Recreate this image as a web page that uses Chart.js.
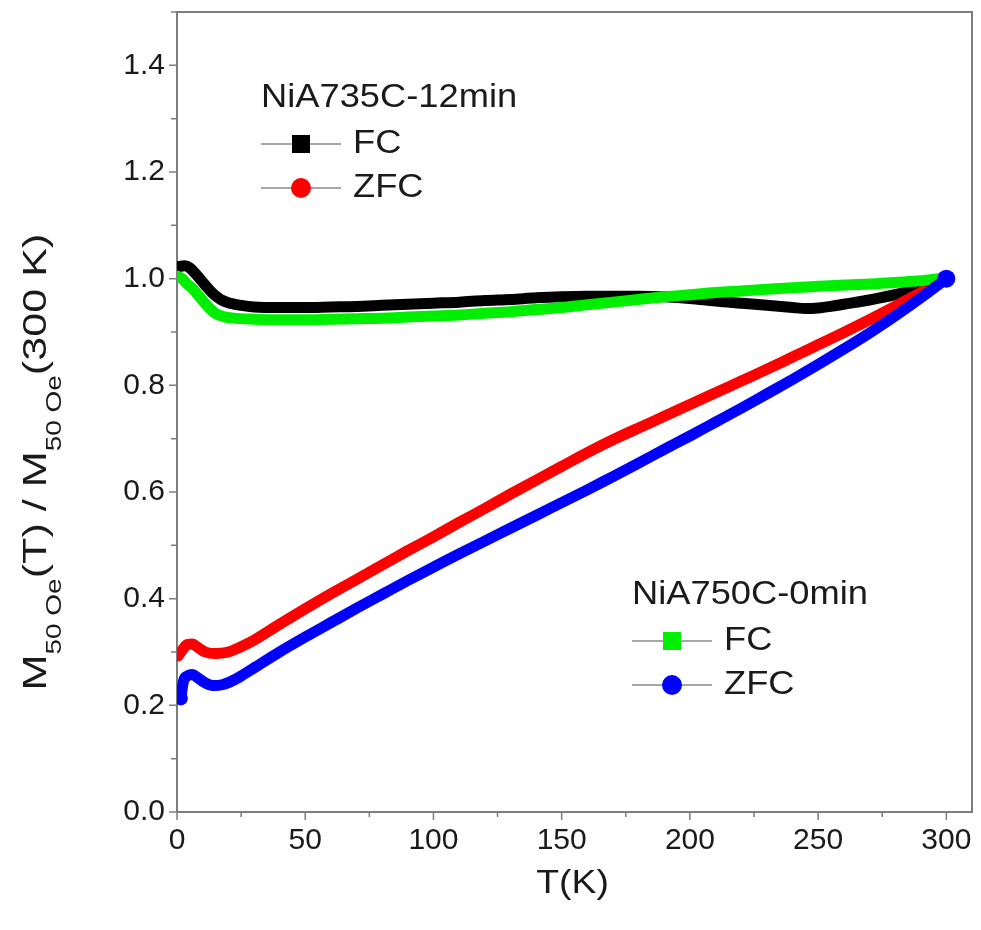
<!DOCTYPE html>
<html lang="en">
<head>
  <meta charset="UTF-8">
  <title>Normalized magnetization vs temperature</title>
  <script src="https://cdn.jsdelivr.net/npm/chart.js"></script>
  <style>
    body { margin: 0; background: #fff; }
    canvas { display: block; }
  </style>
</head>
<body>
  <canvas id="mtChart" width="981" height="930"></canvas>

  <script>
    // NiA735C-12min, field cooled
    const fcT735 = [0, 3, 5, 8, 11, 14, 17, 20, 25, 30, 40, 50, 60, 70, 80, 90, 100, 110, 120, 130, 140, 150, 160, 170, 180, 190, 200, 210, 220, 230, 240, 245, 250, 255, 260, 270, 280, 290, 300];
    const fcM735 = [1.022, 1.024, 1.02, 1.005, 0.988, 0.972, 0.961, 0.955, 0.95, 0.947, 0.946, 0.946, 0.947, 0.948, 0.95, 0.952, 0.954, 0.956, 0.959, 0.961, 0.964, 0.966, 0.967, 0.967, 0.967, 0.966, 0.963, 0.958, 0.954, 0.95, 0.946, 0.944, 0.945, 0.948, 0.952, 0.96, 0.97, 0.984, 1.0];

    // NiA735C-12min, zero field cooled
    const zfcT735 = [0.5, 2, 4, 6, 8, 11, 15, 20, 25, 30, 40, 50, 60, 70, 80, 90, 100, 110, 120, 130, 140, 150, 160, 170, 180, 190, 200, 210, 220, 230, 240, 250, 260, 270, 280, 290, 300];
    const zfcM735 = [0.293, 0.303, 0.314, 0.315, 0.309, 0.3, 0.297, 0.3, 0.31, 0.322, 0.352, 0.381, 0.409, 0.436, 0.463, 0.49, 0.516, 0.543, 0.569, 0.596, 0.622, 0.648, 0.674, 0.698, 0.72, 0.742, 0.764, 0.786, 0.808, 0.83, 0.853, 0.876, 0.899, 0.923, 0.948, 0.974, 1.0];

    // NiA750C-0min, field cooled
    const fcT750 = [0, 2, 4, 6, 9, 12, 15, 18, 22, 30, 40, 50, 60, 70, 80, 90, 100, 110, 120, 130, 140, 150, 160, 170, 180, 190, 200, 210, 220, 230, 240, 250, 260, 270, 280, 290, 297];
    const fcM750 = [1.005, 1.0, 0.99, 0.982, 0.965, 0.948, 0.935, 0.929, 0.926, 0.924, 0.923, 0.923, 0.924, 0.925, 0.926, 0.928, 0.93, 0.932, 0.935, 0.938, 0.942, 0.946, 0.951, 0.956, 0.961, 0.966, 0.97, 0.974, 0.977, 0.98, 0.983, 0.986, 0.988, 0.99, 0.993, 0.996, 1.0];

    // NiA750C-0min, zero field cooled
    const zfcT750 = [1.5, 2.5, 4, 6, 8, 11, 14, 18, 22, 26, 30, 40, 50, 60, 70, 80, 90, 100, 110, 120, 130, 140, 150, 160, 170, 180, 190, 200, 210, 220, 230, 240, 250, 260, 270, 280, 290, 300];
    const zfcM750 = [0.213, 0.245, 0.255, 0.258, 0.252, 0.242, 0.237, 0.239, 0.247, 0.258, 0.27, 0.3, 0.328, 0.355, 0.382, 0.408, 0.434, 0.459, 0.484, 0.508, 0.532, 0.556, 0.58, 0.604, 0.629, 0.654, 0.68, 0.705, 0.731, 0.757, 0.784, 0.811, 0.839, 0.868, 0.898, 0.93, 0.964, 1.0];

    const xTicks = [0, 50, 100, 150, 200, 250, 300];
    const yTicks = [0, 0.2, 0.4, 0.6, 0.8, 1.0, 1.2, 1.4];

    const FONT = "'Liberation Sans', Arial, sans-serif";
    const AXIS_GREY = '#7d7d7d';
    const TEXT = '#1a1a1a';

    function pts(xs, ys) {
      return xs.map((x, i) => ({ x: x, y: ys[i] }));
    }

    function curve(data, color, order, extra) {
      return Object.assign({
        data: data,
        borderColor: color,
        backgroundColor: color,
        borderWidth: 11,
        borderCapStyle: 'round',
        borderJoinStyle: 'round',
        pointRadius: 0,
        cubicInterpolationMode: 'monotone',
        fill: false,
        order: order
      }, extra || {});
    }

    // text drawn a little wider than the font's own proportions
    function wideText(ctx, str, x, y, stretch) {
      ctx.save();
      ctx.translate(x, y);
      ctx.scale(stretch, 1);
      ctx.fillText(str, 0, 0);
      ctx.restore();
    }

    // white page, frame and tick marks (major + minor)
    const framePlugin = {
      id: 'frame',
      beforeDraw(chart) {
        const ctx = chart.ctx;
        ctx.save();
        ctx.fillStyle = '#fff';
        ctx.fillRect(0, 0, chart.width, chart.height);
        ctx.restore();
      },
      beforeDatasetsDraw(chart) {
        const { ctx, chartArea: a, scales } = chart;
        ctx.save();
        ctx.strokeStyle = AXIS_GREY;
        ctx.lineWidth = 2;
        ctx.strokeRect(a.left, a.top, a.right - a.left, a.bottom - a.top);

        ctx.lineWidth = 1.5;
        ctx.beginPath();
        for (let i = 0; i < xTicks.length; i++) {
          const px = scales.x.getPixelForValue(xTicks[i]);
          ctx.moveTo(px, a.bottom);
          ctx.lineTo(px, a.bottom + 8);
          if (i < xTicks.length - 1) {
            const mx = scales.x.getPixelForValue((xTicks[i] + xTicks[i + 1]) / 2);
            ctx.moveTo(mx, a.bottom);
            ctx.lineTo(mx, a.bottom + 5);
          }
        }
        for (let i = 0; i < yTicks.length; i++) {
          const py = scales.y.getPixelForValue(yTicks[i]);
          ctx.moveTo(a.left, py);
          ctx.lineTo(a.left - 8, py);
          const my = scales.y.getPixelForValue(yTicks[i] + 0.1);
          ctx.moveTo(a.left, my);
          ctx.lineTo(a.left - 6, my);
        }
        ctx.stroke();
        ctx.restore();
      }
    };

    // axis titles (with subscripts) and the two legend blocks
    const labelPlugin = {
      id: 'labels',
      afterDraw(chart) {
        const ctx = chart.ctx;
        const a = chart.chartArea;
        ctx.save();
        ctx.fillStyle = TEXT;

        // x title
        ctx.font = '34px ' + FONT;
        ctx.textAlign = 'left';
        ctx.textBaseline = 'middle';
        const tw = ctx.measureText('T(K)').width * 1.1;
        wideText(ctx, 'T(K)', (a.left + a.right) / 2 - tw / 2 - 2, 884, 1.1);

        // y title, rotated, built piece by piece for the subscripts
        const parts = [
          ['M', 0], ['50 Oe', 1], ['(T) / M', 0], ['50 Oe', 1], ['(300 K)', 0]
        ];
        const big = '34px ' + FONT, small = '22px ' + FONT;
        const stretch = 1.27;
        let total = 0;
        parts.forEach(p => { ctx.font = p[1] ? small : big; total += ctx.measureText(p[0]).width; });
        ctx.translate(46, 462);
        ctx.rotate(-Math.PI / 2);
        ctx.scale(stretch, 1);
        ctx.textAlign = 'left';
        ctx.textBaseline = 'alphabetic';
        let cx = -total / 2;
        parts.forEach(p => {
          ctx.font = p[1] ? small : big;
          ctx.fillText(p[0], cx, p[1] ? 15 : 0);
          cx += ctx.measureText(p[0]).width;
        });
        ctx.setTransform(1, 0, 0, 1, 0, 0);

        drawLegend(ctx, 261, 98, 'NiA735C-12min', '#000000', '#ff0000');
        drawLegend(ctx, 632, 595, 'NiA750C-0min', '#00ee00', '#0000ff');
        ctx.restore();
      }
    };

    function drawLegend(ctx, x, y, title, fcColor, zfcColor) {
      ctx.font = '33px ' + FONT;
      ctx.textAlign = 'left';
      ctx.textBaseline = 'middle';
      ctx.fillStyle = TEXT;
      wideText(ctx, title, x, y, 1.1);
      const rows = [['FC', fcColor, 'square'], ['ZFC', zfcColor, 'circle']];
      rows.forEach((r, i) => {
        const ry = y + 46 + i * 44;
        ctx.strokeStyle = '#8a8a8a';
        ctx.lineWidth = 1.5;
        ctx.beginPath();
        ctx.moveTo(x, ry);
        ctx.lineTo(x + 80, ry);
        ctx.stroke();
        ctx.fillStyle = r[1];
        if (r[2] === 'square') {
          ctx.fillRect(x + 40 - 9, ry - 9, 18, 18);
        } else {
          ctx.beginPath();
          ctx.arc(x + 40, ry, 10, 0, Math.PI * 2);
          ctx.fill();
        }
        ctx.fillStyle = TEXT;
        wideText(ctx, r[0], x + 92, ry, 1.1);
      });
    }

    const ctx = document.getElementById('mtChart').getContext('2d');
    new Chart(ctx, {
      type: 'line',
      data: {
        datasets: [
          curve(pts(fcT735, fcM735), '#000000', 4),
          curve(pts(zfcT735, zfcM735), '#ff0000', 3),
          curve(pts(fcT750, fcM750), '#00ee00', 2),
          curve(pts(zfcT750, zfcM750), '#0000ff', 1, {
            pointRadius: c => (c.dataIndex === 0 ? 7 : (c.dataIndex === zfcT750.length - 1 ? 9 : 0)),
            pointBorderWidth: 0
          })
        ]
      },
      options: {
        responsive: false,
        animation: false,
        layout: { padding: { left: 0, top: 12, right: 6, bottom: 0 } },
        plugins: {
          legend: { display: false },
          tooltip: { enabled: false }
        },
        scales: {
          x: {
            type: 'linear',
            min: 0,
            max: 310,
            grid: { display: false, drawTicks: false, tickLength: 0 },
            border: { display: false },
            afterBuildTicks: s => { s.ticks = xTicks.map(v => ({ value: v })); },
            afterFit: s => { s.height = 118; s.paddingLeft = 0; s.paddingRight = 0; },
            ticks: {
              padding: 11,
              maxRotation: 0,
              color: TEXT,
              font: { family: FONT, size: 30 }
            }
          },
          y: {
            min: 0,
            max: 1.5,
            grid: { display: false, drawTicks: false, tickLength: 0 },
            border: { display: false },
            afterBuildTicks: s => { s.ticks = yTicks.map(v => ({ value: v })); },
            afterFit: s => { s.width = 177; s.paddingTop = 0; s.paddingBottom = 0; },
            ticks: {
              padding: 12,
              color: TEXT,
              font: { family: FONT, size: 30 },
              callback: v => v.toFixed(1)
            }
          }
        }
      },
      plugins: [framePlugin, labelPlugin]
    });
  </script>
</body>
</html>
